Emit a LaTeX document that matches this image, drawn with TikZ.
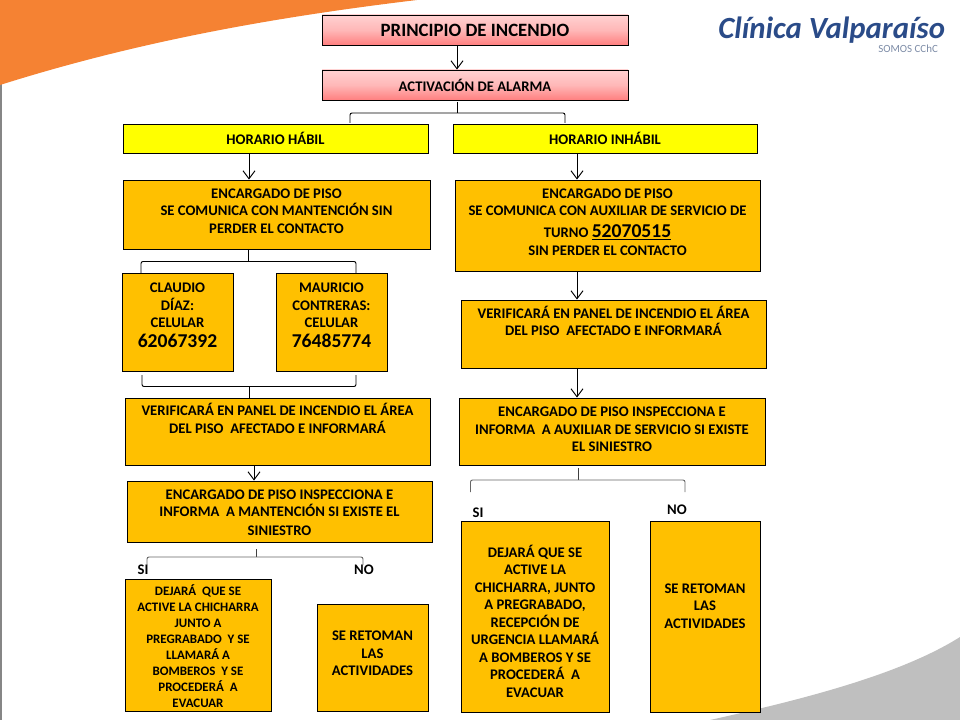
\documentclass[tikz,border=0pt]{standalone}
\usepackage{fontspec}
\setmainfont{Carlito}
\usetikzlibrary{arrows.meta}
\definecolor{ambar}{HTML}{FFC000}
\definecolor{naranja}{HTML}{F58233}
\definecolor{gris}{HTML}{BFBFBF}
\definecolor{azul}{HTML}{2A4B88}
\definecolor{amarillo}{HTML}{FFFF00}
\tikzset{
  caja/.style={draw=black, line width=0.7pt, inner sep=0pt, align=center, fill=ambar, font=\fontsize{11}{13.1}\selectfont\bfseries},
  rosa/.style={caja, top color=red!18, bottom color=red!50!white, middle color=red!28, minimum width=229.5pt, minimum height=22.5pt},
  amarilla/.style={caja, fill=amarillo, minimum height=21.75pt},
  chica/.style={font=\fontsize{9.7}{12}\selectfont\bfseries},
  etiqueta/.style={inner sep=0pt, font=\fontsize{11}{12}\selectfont\bfseries},
  flecha/.style={line width=0.7pt, -{Straight Barb[length=6pt,width=9pt]}},
  llave/.style={line width=0.7pt, rounded corners=1.5pt}
}
\begin{document}
\begin{tikzpicture}[x=0.75pt, y=-0.75pt]
\useasboundingbox (0,0) rectangle (960,720);
\fill[gris!70!black] (0,0) rectangle (1.5,720);
\fill[naranja] (0,0) -- (0,85) .. controls (133,43) and (267,18) .. (417,0) -- cycle;
\fill[gris] (960,720) -- (710,720) .. controls (800,700) and (900,675) .. (960,637) -- cycle;

\node[anchor=base west, inner sep=0pt, text=azul, font=\fontsize{23.1}{24}\selectfont\bfseries\itshape] (logo) at (718,39) {Clínica Valparaíso};
\node[anchor=base west, inner sep=0pt, text=azul!45!gris, font=\fontsize{8.2}{8}\selectfont] (lema) at (878,53) {SOMOS CChC};

\node[rosa, font=\fontsize{14.1}{15}\selectfont\bfseries] (principio) at (475,30) {PRINCIPIO DE INCENDIO};
\node[rosa] (alarma) at (475,85) {ACTIVACIÓN DE ALARMA};
\node[amarilla, minimum width=228.75pt] (habil) at (275.5,138.5) {HORARIO HÁBIL};
\node[amarilla, minimum width=228pt] (inhabil) at (605,138.5) {HORARIO INHÁBIL};

\node[caja, minimum width=230.25pt, minimum height=51.75pt, text depth=5pt] (encuno) at (276.5,214.5) {ENCARGADO DE PISO\\SE COMUNICA CON MANTENCIÓN SIN\\PERDER EL CONTACTO};
\node[caja, minimum width=228.75pt, minimum height=68.25pt, text depth=5pt] (encdos) at (607.5,225.5) {ENCARGADO DE PISO\\SE COMUNICA CON AUXILIAR DE SERVICIO DE\\[3pt]TURNO {\fontsize{14.7}{15}\selectfont\underline{52070515}}\\[0.7pt]SIN PERDER EL CONTACTO};
\node[caja, minimum width=83.25pt, minimum height=73.5pt, text depth=10pt] (claudio) at (177.5,322) {CLAUDIO\\DÍAZ:\\CELULAR\\[2pt]{\fontsize{14.7}{15}\selectfont 62067392}};
\node[caja, minimum width=83.25pt, minimum height=73.5pt, text depth=10pt] (mauricio) at (331.5,322) {MAURICIO\\CONTRERAS:\\CELULAR\\[2pt]{\fontsize{14.7}{15}\selectfont 76485774}};
\node[caja, minimum width=228.75pt, minimum height=51pt, text depth=20pt] (verifdos) at (613.5,334) {VERIFICARÁ EN PANEL DE INCENDIO EL ÁREA\\DEL PISO~ AFECTADO E INFORMARÁ};
\node[caja, minimum width=228.75pt, minimum height=50.25pt, text depth=20pt] (verifuno) at (277.5,431.5) {VERIFICARÁ EN PANEL DE INCENDIO EL ÁREA\\DEL PISO~ AFECTADO E INFORMARÁ};
\node[caja, minimum width=229.5pt, minimum height=50.25pt, text depth=3pt] (enccuatro) at (612,431.5) {ENCARGADO DE PISO INSPECCIONA E\\INFORMA~ A AUXILIAR DE SERVICIO SI EXISTE\\EL SINIESTRO};
\node[caja, minimum width=228.75pt, minimum height=45.75pt, text height=36pt] (enctres) at (279.5,511.5) {ENCARGADO DE PISO INSPECCIONA E\\INFORMA~ A MANTENCIÓN SI EXISTE EL\\[1pt]SINIESTRO};

\node[caja, chica, minimum width=109.5pt, minimum height=99pt, text height=93.7pt] (dejarauno) at (198,645) {DEJARÁ~ QUE SE\\ACTIVE LA CHICHARRA\\JUNTO A\\PREGRABADO~ Y SE\\LLAMARÁ A\\BOMBEROS~ Y SE\\PROCEDERÁ~ A\\EVACUAR};
\node[caja, minimum width=83.25pt, minimum height=80.25pt, text depth=6pt] (retomauno) at (372.5,657.5) {SE RETOMAN\\LAS\\ACTIVIDADES};
\node[caja, minimum width=111pt, minimum height=143.25pt, text height=121pt] (dejarados) at (535,616.5) {DEJARÁ QUE SE\\ACTIVE LA\\CHICHARRA, JUNTO\\A PREGRABADO,\\RECEPCIÓN DE\\URGENCIA LLAMARÁ\\A BOMBEROS Y SE\\PROCEDERÁ~ A\\EVACUAR};
\node[caja, minimum width=82.5pt, minimum height=143.25pt, text depth=16pt] (retomados) at (705,616.5) {SE RETOMAN\\LAS\\ACTIVIDADES};

\node[etiqueta] (siuno) at (143,570) {SI};
\node[etiqueta] (nouno) at (364,570) {NO};
\node[etiqueta] (sidos) at (478,512.5) {SI};
\node[etiqueta] (nodos) at (677,510) {NO};

\coordinate (ejeA) at (457,102);
\coordinate (ejeB) at (249,153);
\coordinate (ejeC) at (577,153);
\coordinate (ejeD) at (254,465);
\coordinate (ejeE) at (248,261.5);
\coordinate (ejeF) at (249,386.5);
\coordinate (ejeG) at (256,557);
\coordinate (ejeH) at (578,480);
\coordinate (ejeI) at (457,113);

\draw[flecha] (principio.south -| ejeA) -- (alarma.north -| ejeA);
\draw[flecha] (habil.south -| ejeB) -- (encuno.north -| ejeB);
\draw[flecha] (inhabil.south -| ejeC) -- (encdos.north -| ejeC);
\draw[flecha] (encdos.south -| ejeC) -- (verifdos.north -| ejeC);
\draw[flecha] (verifdos.south -| ejeC) -- (enccuatro.north -| ejeC);
\draw[flecha] (verifuno.south -| ejeD) -- (enctres.north -| ejeD);

\coordinate (llaA) at (350,123);
\coordinate (llaB) at (565,123);
\draw[llave] (ejeA) -- (ejeI);
\draw[llave] (llaA) |- (ejeI) -| (llaB);

\coordinate (llaC) at (141,273);
\coordinate (llaD) at (356,273);
\draw[llave] (encuno.south -| ejeE) -- (ejeE);
\draw[llave] (llaC) |- (ejeE) -| (llaD);

\coordinate (llaE) at (142,375);
\coordinate (llaF) at (356,375);
\draw[llave] (llaE) |- (ejeF) -| (llaF);
\draw[llave] (ejeF) -- (verifuno.north -| ejeF);

\coordinate (llaG) at (147,565);
\coordinate (llaH) at (363,565);
\coordinate (ejeJ) at (256,549);
\draw[llave, black!75] (ejeJ) -- (ejeG);
\draw[llave, black!60] (llaG) |- (ejeG) -| (llaH);

\coordinate (llaI) at (470.5,492);
\coordinate (llaJ) at (685,492);
\coordinate (ejeK) at (578,468);
\draw[llave, black!75] (ejeK) -- (ejeH);
\draw[llave, black!60] (llaI) |- (ejeH) -| (llaJ);
\end{tikzpicture}
\end{document}
